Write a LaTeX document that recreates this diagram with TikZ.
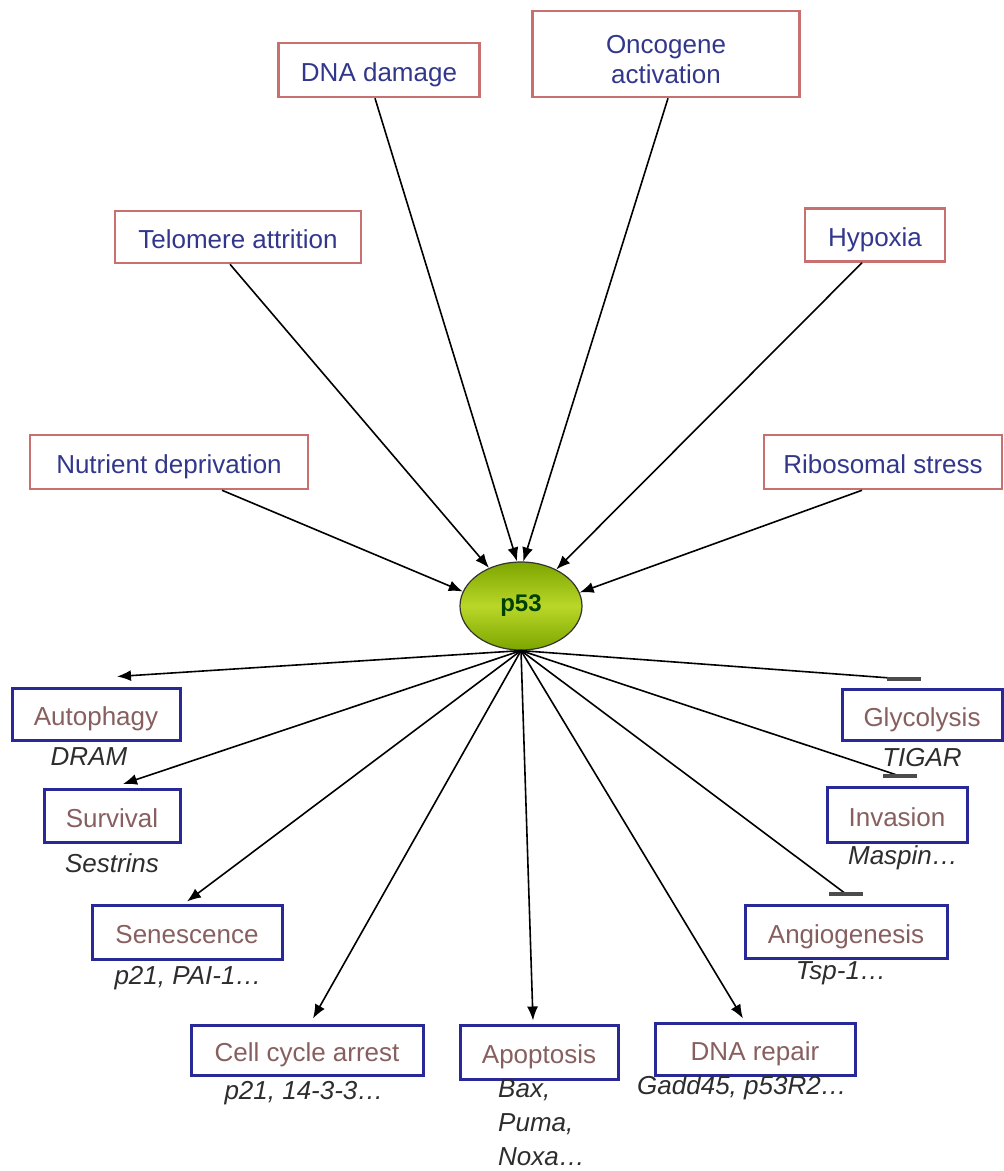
\documentclass[tikz,border=0pt]{standalone}
\usepackage{fontspec}
\setmainfont{Liberation Sans}
\usetikzlibrary{arrows.meta,shapes.geometric}
\definecolor{causeline}{RGB}{200,112,112}
\definecolor{causetext}{RGB}{50,55,140}
\definecolor{fateline}{RGB}{40,40,150}
\definecolor{fatetext}{RGB}{135,95,95}
\definecolor{genetext}{RGB}{45,45,45}
\definecolor{p53dark}{RGB}{125,165,0}
\definecolor{p53light}{RGB}{185,215,40}
\begin{document}
\begin{tikzpicture}[x=1pt,y=-1pt,
        causebox/.style={draw=causeline,line width=2.5pt,text=causetext,minimum height=53pt,align=center,
            font=\fontsize{26}{30}\selectfont},
        oneline/.style={text height=23pt,text depth=0pt},
        cause/.style={causebox,oneline},
        fate/.style={draw=fateline,line width=3pt,text=fatetext,minimum height=53pt,oneline,
            font=\fontsize{26}{30}\selectfont},
        gene/.style={text=genetext,font=\itshape\fontsize{26}{34}\selectfont,inner sep=0pt},
        arr/.style={line width=1.6pt,-{Latex[length=14pt,width=11pt]}},
        inhib/.style={line width=1.6pt},
        blockbar/.style={line width=3.5pt,gray!60!black}]
        \useasboundingbox (0,0) rectangle (1004,1171);
        %% p53
        \node[ellipse,draw=black!80,line width=1.2pt,minimum width=122pt,minimum height=88pt,inner sep=0pt,
            top color=p53dark,bottom color=p53dark,middle color=p53light,
            text=green!25!black,font=\bfseries\fontsize{24}{28}\selectfont] (p53) at (521,606) {p53};
        %% stresses
        \node[cause,minimum width=201pt,minimum height=54pt] (dna) at (379,70) {DNA damage};
        \node[causebox,minimum width=267pt,minimum height=86pt,text height=59pt,text depth=0pt] (onco) at (666,54) {Oncogene\\activation};
        \node[cause,minimum width=246pt,minimum height=52pt] (telo) at (238,237) {Telomere attrition};
        \node[cause,minimum width=140pt] (hypo) at (875,235) {Hypoxia};
        \node[cause,minimum width=278pt,minimum height=54pt] (nutr) at (169,462) {Nutrient deprivation};
        \node[cause,minimum width=238pt,minimum height=54pt] (ribo) at (883,462) {Ribosomal stress};
        \draw[arr] ([xshift=53pt]nutr.south) -- (p53.166);
        \draw[arr] ([xshift=-8pt]telo.south) -- (p53.130);
        \draw[arr] ([xshift=-4pt]dna.south) -- (p53.95);
        \draw[arr] ([xshift=2pt]onco.south) -- (p53.87);
        \draw[arr] ([xshift=-13pt]hypo.south) -- (p53.46);
        \draw[arr] ([xshift=-21pt]ribo.south) -- (p53.13);
        %% outcomes
        \node[fate,minimum width=168pt,minimum height=52pt] (auto) at (96,714) {Autophagy};
        \node[fate,minimum width=136pt] (surv) at (112,816) {Survival};
        \node[fate,minimum width=190pt,minimum height=54pt] (sene) at (187,932) {Senescence};
        \node[fate,minimum width=232pt,minimum height=50pt] (cell) at (307,1050) {Cell cycle arrest};
        \node[fate,minimum width=158pt,minimum height=54pt] (apop) at (539,1052) {Apoptosis};
        \node[fate,minimum width=200pt,minimum height=52pt] (repair) at (755,1049) {DNA repair};
        \node[fate,minimum width=160pt,minimum height=51pt] (glyc) at (922,715) {Glycolysis};
        \node[fate,minimum width=140pt,minimum height=55pt] (inva) at (897,815) {Invasion};
        \node[fate,minimum width=202pt] (angio) at (846,932) {Angiogenesis};
        %% target genes
        \node[gene] (dram) at (89,757) {DRAM};
        \node[gene] (sest) at (112,863) {Sestrins};
        \node[gene] (pai) at (188,978) {p21, PAI-1…};
        \node[gene] (cyc14) at (304,1093) {p21, 14-3-3…};
        \node[gene,anchor=west,align=left] (bax) at (498,1123) {Bax,\\Puma,\\Noxa…};
        \node[gene] (gadd) at (742,1088) {Gadd45, p53R2…};
        \node[gene] (tigar) at (922,758) {TIGAR};
        \node[gene] (maspin) at (903,858) {Maspin…};
        \node[gene] (tsp) at (841,973) {Tsp-1…};
        \draw[arr] (p53.south) -- ([xshift=21pt,yshift=10pt]auto.north);
        \draw[arr] (p53.south) -- ([xshift=11pt,yshift=4pt]surv.north);
        \draw[arr] (p53.south) -- ([yshift=2pt]sene.north);
        \draw[arr] (p53.south) -- ([xshift=6pt,yshift=5pt]cell.north);
        \draw[arr] (p53.south) -- ([xshift=-6pt,yshift=3pt]apop.north);
        \draw[arr] (p53.south) -- ([xshift=-12pt,yshift=3pt]repair.north);
        %% repression
        \coordinate (glycT) at ([xshift=-18pt,yshift=9pt]glyc.north);
        \coordinate (invaT) at ([xshift=3pt,yshift=10pt]inva.north);
        \coordinate (angioT) at ([yshift=10pt]angio.north);
        \foreach \t in {glycT,invaT,angioT} {
            \draw[inhib] (p53.south) -- (\t);
            \draw[blockbar] ([xshift=-17pt]\t) -- ([xshift=17pt]\t);
        }
    \end{tikzpicture}
\end{document}
